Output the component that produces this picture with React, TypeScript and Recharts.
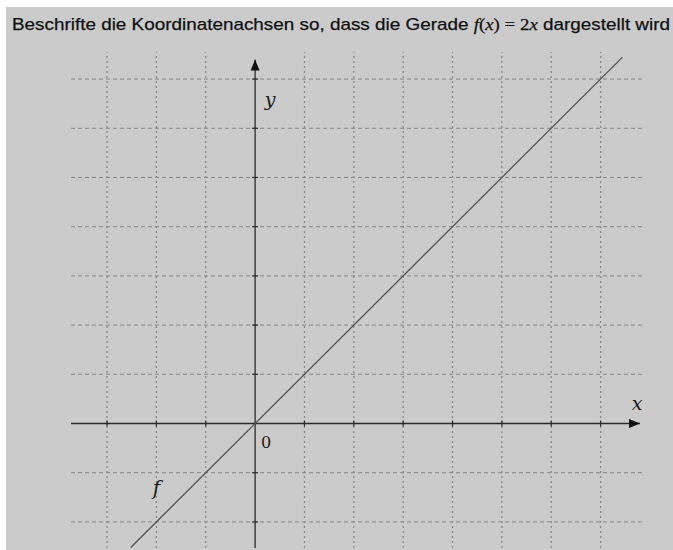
import React from "react";
import {
  ComposedChart,
  Line,
  XAxis,
  YAxis,
  ReferenceLine,
  ReferenceDot,
} from "recharts";

// Grid positions along each axis (x in units of 1, y in units of 2 so that f(x) = 2x)
const xGridTicks = [-3, -2, -1, 1, 2, 3, 4, 5, 6, 7];
const yGridTicks = [-4, -2, 2, 4, 6, 8, 10, 12, 14];

// Visible range of the coordinate plane
const xRange = [-3.73, 7.9];
const yRange = [-5.06, 15.1];

// Where the axis arrows end
const xArrowTip = 7.8;
const yArrowTip = 14.8;

// Sample points of the straight line f(x) = 2x
const lineX = [-2.52, 7.44];
const lineY = [-5.04, 14.88];
const lineData = lineX.map((x, i) => ({ x, y: lineY[i] }));

const BG = "#cbcbcb";
const GRID = "#878787";
const AXIS = "#2b2b2b";

const tickMark = (horizontal: boolean) => (props: any) => {
  const { cx, cy } = props;
  return horizontal ? (
    <line x1={cx} x2={cx} y1={cy - 3} y2={cy + 3} stroke={AXIS} strokeWidth={1.2} />
  ) : (
    <line x1={cx - 3} x2={cx + 3} y1={cy} y2={cy} stroke={AXIS} strokeWidth={1.2} />
  );
};

const upArrow = (props: any) => {
  const { cx, cy } = props;
  return (
    <path
      d={`M${cx},${cy} L${cx - 4.5},${cy + 11} L${cx + 4.5},${cy + 11} Z`}
      fill="#111"
    />
  );
};

const rightArrow = (props: any) => {
  const { cx, cy } = props;
  return (
    <path
      d={`M${cx},${cy} L${cx - 11},${cy - 4.5} L${cx - 11},${cy + 4.5} Z`}
      fill="#111"
    />
  );
};

const textShape =
  (text: string, dx: number, dy: number, italic: boolean, size: number) =>
  (props: any) => {
    const { cx, cy } = props;
    return (
      <text
        x={cx + dx}
        y={cy + dy}
        fontFamily="'DejaVu Serif', 'Liberation Serif', serif"
        fontStyle={italic ? "italic" : "normal"}
        fontSize={size}
        fill="#1a1a1a"
        textAnchor="middle"
      >
        {text}
      </text>
    );
  };

const Title = () => (
  <text
    x={12}
    y={30}
    fontFamily="'Liberation Sans', Arial, sans-serif"
    fontSize={17}
    fill="#111"
    stroke="#111"
    strokeWidth={0.25}
    textLength={658}
    lengthAdjust="spacingAndGlyphs"
  >
    <tspan>Beschrifte die Koordinatenachsen so, dass die Gerade </tspan>
    <tspan fontFamily="'Liberation Serif', serif" fontStyle="italic">f</tspan>
    <tspan fontFamily="'Liberation Serif', serif">(</tspan>
    <tspan fontFamily="'Liberation Serif', serif" fontStyle="italic">x</tspan>
    <tspan fontFamily="'Liberation Serif', serif">) = 2</tspan>
    <tspan fontFamily="'Liberation Serif', serif" fontStyle="italic">x</tspan>
    <tspan> dargestellt wird</tspan>
  </text>
);

export default function App() {
  return (
    <div
      style={{
        position: "absolute",
        left: 0,
        top: 0,
        width: 673,
        height: 550,
        background: "#ffffff",
      }}
    >
      <div
        style={{
          position: "absolute",
          left: 6,
          top: 7,
          width: 667,
          height: 543,
          background: BG,
        }}
      />
      <div style={{ position: "absolute", left: 0, top: 0 }}>
        <ComposedChart
          width={673}
          height={550}
          data={lineData}
          margin={{ top: 52, right: 28, bottom: 2, left: 71 }}
        >
          <XAxis
            hide
            type="number"
            dataKey="x"
            domain={xRange}
            allowDataOverflow
          />
          <YAxis
            hide
            type="number"
            dataKey="y"
            domain={yRange}
            allowDataOverflow
          />

          {/* Dashed grid */}
          {yGridTicks.map((t) => (
            <ReferenceLine
              key={`gh${t}`}
              y={t}
              stroke={GRID}
              strokeWidth={1}
              strokeDasharray="4 3"
            />
          ))}
          {xGridTicks.map((t) => (
            <ReferenceLine
              key={`gv${t}`}
              x={t}
              stroke={GRID}
              strokeWidth={1.2}
              strokeDasharray="2 3"
            />
          ))}

          {/* Axes */}
          <ReferenceLine
            segment={[
              { x: xRange[0], y: 0 },
              { x: xArrowTip, y: 0 },
            ]}
            stroke={AXIS}
            strokeWidth={1.3}
          />
          <ReferenceLine
            segment={[
              { x: 0, y: yRange[0] },
              { x: 0, y: yArrowTip },
            ]}
            stroke={AXIS}
            strokeWidth={1.3}
          />
          {xGridTicks.map((t) => (
            <ReferenceDot key={`xt${t}`} x={t} y={0} r={0} shape={tickMark(true)} />
          ))}
          {yGridTicks.map((t) => (
            <ReferenceDot key={`yt${t}`} x={0} y={t} r={0} shape={tickMark(false)} />
          ))}
          <ReferenceDot x={0} y={yArrowTip} r={0} shape={upArrow} />
          <ReferenceDot x={xArrowTip} y={0} r={0} shape={rightArrow} />

          <Line
            type="linear"
            dataKey="y"
            stroke="#505050"
            strokeWidth={1.3}
            dot={false}
            isAnimationActive={false}
          />

          {/* Labels */}
          <ReferenceDot x={0} y={yArrowTip} r={0} shape={textShape("y", 15, 47, true, 19)} />
          <ReferenceDot x={xArrowTip} y={0} r={0} shape={textShape("x", -3, -14, true, 19)} />
          <ReferenceDot x={0} y={0} r={0} shape={textShape("0", 11, 24, false, 16)} />
          <ReferenceDot x={-2} y={-4} r={0} shape={textShape("f", 0, -27, true, 20)} />

          <Title />
        </ComposedChart>
      </div>
    </div>
  );
}
